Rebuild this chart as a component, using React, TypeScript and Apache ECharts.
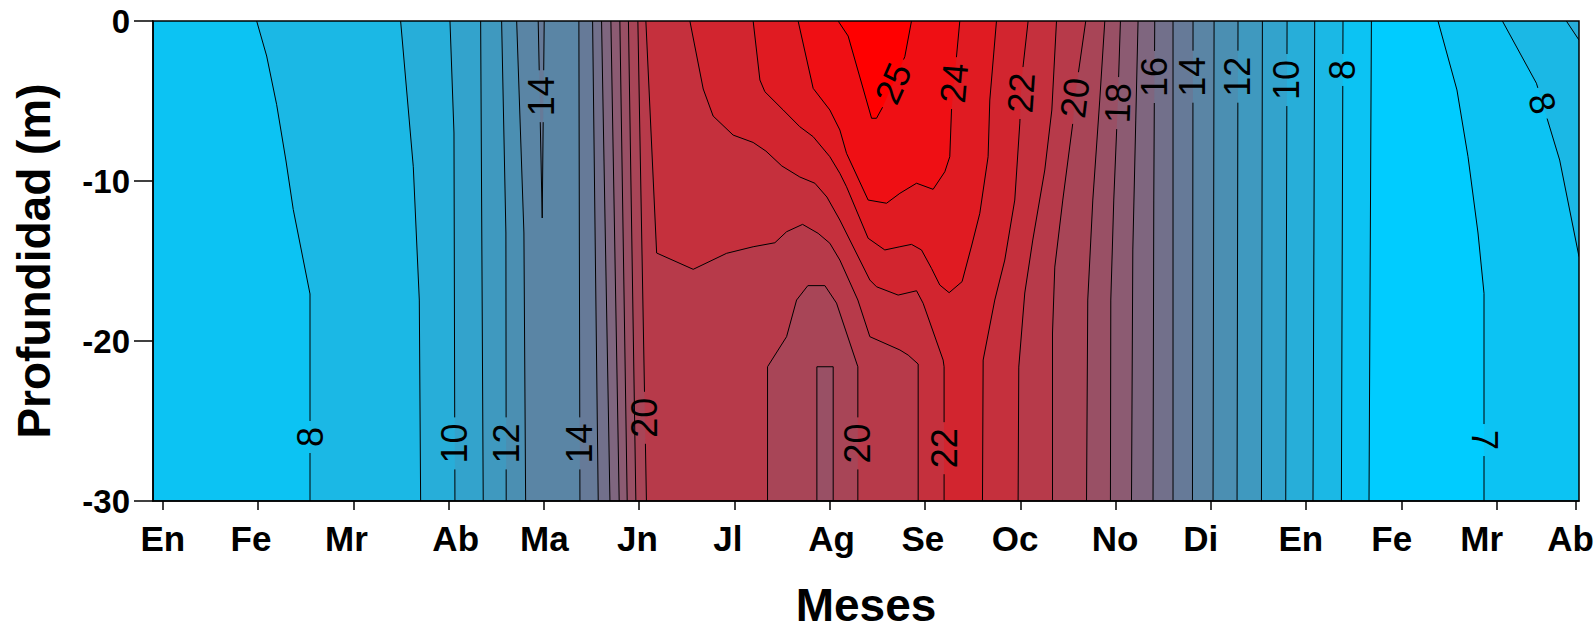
import React, { useEffect, useRef } from "react";
import * as echarts from "echarts";

type Pt = [number, number];

// ---------- axes ----------
const X_MIN = -0.103; // months counted from the first "En"
const X_MAX = 14.864;
const DEPTH_MIN = -30;
const DEPTH_MAX = 0;

const MONTH_TICKS = [0, 1, 2, 3, 4, 5, 6, 7, 8, 9, 10, 11, 12, 13, 14, 14.83];
const MONTH_LABEL_POS = [0, 0.926, 1.928, 3.074, 4.005, 4.981, 5.931, 7.02, 7.977, 8.945, 9.995, 10.894, 11.944, 12.898, 13.843, 14.776];
const MONTH_LABELS = ["En", "Fe", "Mr", "Ab", "Ma", "Jn", "Jl", "Ag", "Se", "Oc", "No", "Di", "En", "Fe", "Mr", "Ab"];

// ---------- colour of each 1 °C band (lower bound 6 … 25) ----------
const BAND_LOWER = [6, 7, 8, 9, 10, 11, 12, 13, 14, 15, 16, 17, 18, 19, 20, 21, 22, 23, 24, 25];
const BAND_COLORS = [
  "#00ccff", "#0cc3f3", "#1bb8e5", "#27aed9", "#33a3cc", "#3f99bf", "#4b8fb2", "#5a85a5", "#667a98", "#72708b",
  "#7f667f", "#8c5b72", "#995065", "#a84557", "#b73a4a", "#c5303d", "#d2252f", "#e01b22", "#ef0f14", "#ff0000",
];

// ---------- isotherms: [month, depth] ----------
// spring (warming) side
const RISE_8: Pt[] = [[0.985, 0], [1.09, -2.19], [1.195, -5.23], [1.293, -8.75], [1.369, -11.78], [1.545, -17.06], [1.545, -30]];
const RISE_9: Pt[] = [[2.496, 0], [2.629, -9.11], [2.692, -17.44], [2.706, -30]];
const RISE_10: Pt[] = [[3.014, 0], [3.056, -7], [3.066, -30]];
const RISE_11: Pt[] = [[3.336, 0], [3.363, -30]];
const RISE_12: Pt[] = [[3.556, 0], [3.601, -13.25], [3.604, -30]];
const RISE_13: Pt[] = [[3.714, 0], [3.79, -13.25], [3.808, -30]];
const RISE_14: Pt[] = [[4.367, 0], [4.378, -30]];
const RISE_15: Pt[] = [[4.511, 0], [4.57, -30]];
const RISE_16: Pt[] = [[4.605, 0], [4.693, -30]];
const RISE_17: Pt[] = [[4.703, 0], [4.79, -30]];
const RISE_18: Pt[] = [[4.797, 0], [4.874, -30]];
const RISE_19: Pt[] = [[4.887, 0], [4.965, -30]];
const RISE_20: Pt[] = [[4.986, 0], [5.076, -30]];
const RISE_21: Pt[] = [
  [5.07, 0], [5.183, -14.5], [5.567, -15.52], [5.917, -14.52], [6.196, -14.11], [6.424, -13.86], [6.547, -13.17],
  [6.715, -12.71], [6.878, -13.27], [7.001, -13.89], [7.106, -14.94], [7.295, -17.44], [7.421, -19.73], [7.736, -20.56],
  [7.823, -20.88], [7.928, -21.44], [7.928, -30],
];
const RISE_22: Pt[] = [
  [5.532, 0], [5.672, -4.25], [5.776, -5.94], [5.986, -7.13], [6.196, -7.59], [6.33, -8.13], [6.497, -9.06], [6.686, -9.75],
  [6.844, -10.14], [6.97, -11], [7.106, -12.44], [7.421, -16.19], [7.491, -16.61], [7.718, -17.13], [7.911, -16.86],
  [7.98, -17.64], [8.19, -21.19], [8.2, -21.61], [8.2, -30],
];
// autumn (cooling) side
const FALL_7: Pt[] = [[12.685, 0], [12.66, -30]];
const FALL_8: Pt[] = [[12.387, 0], [12.37, -30]];
const FALL_9: Pt[] = [[12.09, 0], [12.072, -30]];
const FALL_10: Pt[] = [[11.8, 0], [11.786, -30]];
const FALL_11: Pt[] = [[11.541, 0], [11.531, -30]];
const FALL_12: Pt[] = [[11.285, 0], [11.275, -30]];
const FALL_13: Pt[] = [[11.034, 0], [11.023, -30]];
const FALL_14: Pt[] = [[10.813, 0], [10.807, -30]];
const FALL_15: Pt[] = [[10.603, 0], [10.603, -30]];
const FALL_16: Pt[] = [[10.411, 0], [10.401, -11.19], [10.393, -30]];
const FALL_17: Pt[] = [[10.236, 0], [10.212, -6.19], [10.181, -14.31], [10.167, -30]];
const FALL_18: Pt[] = [[10.051, 0], [10.023, -5.13], [9.981, -11.19], [9.95, -17.44], [9.946, -30]];
const FALL_19: Pt[] = [[9.887, 0], [9.834, -4.94], [9.761, -11.19], [9.708, -17.44], [9.695, -30]];
const FALL_20: Pt[] = [[9.687, 0], [9.572, -4.81], [9.551, -6.38], [9.446, -11.19], [9.362, -15.38], [9.338, -19.5], [9.338, -30]];
const FALL_21: Pt[] = [[9.38, 0], [9.331, -5.56], [9.257, -9.31], [9.131, -13.69], [9.047, -17], [8.984, -21.63], [8.977, -30]];
const FALL_22: Pt[] = [[9.082, 0], [9.013, -3.69], [8.995, -6.38], [8.942, -11.19], [8.837, -14.94], [8.732, -17.44], [8.61, -21.19], [8.603, -30]];
// second winter / spring
const RISE_7B: Pt[] = [[13.384, 0], [13.583, -4.31], [13.699, -8.48], [13.804, -13.25], [13.867, -17.02], [13.867, -30]];
const RISE_8B: Pt[] = [[14.06, 0], [14.417, -3.89], [14.661, -8.69], [14.864, -14.73]];
const RISE_9B: Pt[] = [[14.731, 0], [14.864, -1.19]];
// closed / local features
const TONGUE_14: Pt[] = [[3.94, 0], [3.982, -12.31], [4.003, 0]];
const DOME_20: Pt[] = [[6.347, -30], [6.347, -21.61], [6.547, -19.73], [6.652, -17.44], [6.77, -16.54], [6.949, -16.54], [7.071, -17.63], [7.295, -21.61], [7.295, -30]];
const POCKET_19: Pt[] = [[6.865, -30], [6.865, -21.61], [7.036, -21.61], [7.036, -30]];
const CORE_23: Pt[] = [
  [6.196, 0], [6.267, -3.69], [6.319, -4.42], [6.511, -5.56], [6.686, -6.61], [6.826, -7.23], [7.001, -8.48], [7.106, -9.52],
  [7.176, -10.36], [7.403, -13.58], [7.578, -14.31], [7.736, -14.11], [7.858, -13.96], [7.963, -14.31], [8.068, -15.46],
  [8.155, -16.5], [8.253, -16.98], [8.389, -16.29], [8.491, -14], [8.575, -12.02], [8.662, -8.48], [8.68, -4.94], [8.75, 0],
];
const CORE_24: Pt[] = [
  [6.668, 0], [6.826, -4.21], [7.001, -5.56], [7.106, -6.81], [7.176, -8.27], [7.403, -11.19], [7.596, -11.39], [7.736, -10.77],
  [7.911, -10.14], [8.085, -10.52], [8.208, -9.42], [8.26, -8.48], [8.278, -5.56], [8.365, 0],
];
const CORE_25: Pt[] = [[7.088, 0], [7.193, -0.94], [7.439, -6.08], [7.491, -6.08], [7.557, -5.36], [7.788, -2.23], [7.858, 0]];

// ---------- contour labels ----------
const LABEL_TEXT = ["8", "10", "12", "14", "14", "20", "20", "22", "25", "24", "22", "20", "18", "16", "14", "12", "10", "8", "8", "7"];
const LABEL_X = [1.545, 3.066, 3.604, 4.377, 3.975, 5.06, 7.295, 8.2, 7.665, 8.304, 9.008, 9.572, 10.023, 10.405, 10.811, 11.283, 11.798, 12.386, 14.48, 13.867];
const LABEL_Y = [-26.0, -26.4, -26.4, -26.4, -4.7, -24.8, -26.4, -26.7, -3.9, -3.88, -4.5, -4.81, -5.13, -3.5, -3.48, -3.48, -3.69, -3.06, -5.14, -26.19];
const LABEL_ANGLE = [90, 90, 90, 90, 90, 90, 90, 90, 66, 85, 86, 83, 88, 90, 90, 90, 90, 90, -73, -90];
const LABEL_LINE = ["r8", "r10", "r12", "r14", "t14", "r20", "d20", "r22", "c25", "c24", "f22", "f20", "f18", "f16", "f14", "f12", "f10", "f8", "b8", "b7"];

// ---------- derived tables ----------
const RISE: Record<number, Pt[]> = {
  8: RISE_8, 9: RISE_9, 10: RISE_10, 11: RISE_11, 12: RISE_12, 13: RISE_13, 14: RISE_14, 15: RISE_15,
  16: RISE_16, 17: RISE_17, 18: RISE_18, 19: RISE_19, 20: RISE_20, 21: RISE_21, 22: RISE_22,
};
const FALL: Record<number, Pt[]> = {
  7: FALL_7, 8: FALL_8, 9: FALL_9, 10: FALL_10, 11: FALL_11, 12: FALL_12, 13: FALL_13, 14: FALL_14, 15: FALL_15,
  16: FALL_16, 17: FALL_17, 18: FALL_18, 19: FALL_19, 20: FALL_20, 21: FALL_21, 22: FALL_22,
};
const rev = (a: Pt[]): Pt[] => [...a].reverse();
const bandColor = (lower: number) => BAND_COLORS[BAND_LOWER.indexOf(lower)];

type Fill = { band: number; pts: Pt[] };
const FILLS: Fill[] = [];
FILLS.push({ band: 7, pts: [[X_MIN, DEPTH_MAX], [X_MAX, DEPTH_MAX], [X_MAX, DEPTH_MIN], [X_MIN, DEPTH_MIN]] });
FILLS.push({ band: 6, pts: [...FALL_7, ...rev(RISE_7B)] });
for (let L = 8; L <= 20; L++) {
  FILLS.push({ band: L, pts: [...RISE[L], ...rev(FALL[L])] });
  if (L === 8) FILLS.push({ band: 8, pts: [...RISE_8B, [X_MAX, DEPTH_MAX]] });
  if (L === 9) FILLS.push({ band: 9, pts: [...RISE_9B, [X_MAX, DEPTH_MAX]] });
  if (L === 14) FILLS.push({ band: 14, pts: TONGUE_14 });
}
FILLS.push({ band: 19, pts: DOME_20 });
FILLS.push({ band: 18, pts: POCKET_19 });
FILLS.push({ band: 21, pts: [...RISE_21, ...rev(FALL_21)] });
FILLS.push({ band: 22, pts: [...RISE_22, ...rev(FALL_22)] });
FILLS.push({ band: 23, pts: CORE_23 });
FILLS.push({ band: 24, pts: CORE_24 });
FILLS.push({ band: 25, pts: CORE_25 });

type Iso = { id: string; pts: Pt[] };
const ISOLINES: Iso[] = [];
Object.keys(RISE).forEach((k) => ISOLINES.push({ id: "r" + k, pts: RISE[+k] }));
Object.keys(FALL).forEach((k) => ISOLINES.push({ id: "f" + k, pts: FALL[+k] }));
ISOLINES.push({ id: "b7", pts: RISE_7B }, { id: "b8", pts: RISE_8B }, { id: "b9", pts: RISE_9B });
ISOLINES.push({ id: "t14", pts: TONGUE_14 }, { id: "d20", pts: DOME_20 }, { id: "p19", pts: POCKET_19 });
ISOLINES.push({ id: "c23", pts: CORE_23 }, { id: "c24", pts: CORE_24 }, { id: "c25", pts: CORE_25 });

const FONT = '"Liberation Sans", Arial, Helvetica, sans-serif';
const NARROW = '"Liberation Sans Narrow", "Arial Narrow", "Liberation Sans", Arial, sans-serif';
const LABEL_SIZE = 36;

// cut the part of a pixel polyline that falls inside a circle (gap for a label)
function cutPoly(poly: number[][], cx: number, cy: number, r: number): number[][][] {
  const out: number[][][] = [];
  let cur: number[][] = [];
  for (let i = 0; i < poly.length - 1; i++) {
    const a = poly[i], b = poly[i + 1];
    const dx = b[0] - a[0], dy = b[1] - a[1];
    const fx = a[0] - cx, fy = a[1] - cy;
    const A = dx * dx + dy * dy, B = 2 * (fx * dx + fy * dy), C = fx * fx + fy * fy - r * r;
    const disc = B * B - 4 * A * C;
    let s = 2, e = -1;
    if (A > 0 && disc > 0) {
      const sq = Math.sqrt(disc);
      s = (-B - sq) / (2 * A);
      e = (-B + sq) / (2 * A);
    }
    const s0 = Math.max(0, s), e0 = Math.min(1, e);
    if (s0 >= e0) {
      if (!cur.length) cur.push(a);
      cur.push(b);
    } else {
      if (s0 > 0) {
        if (!cur.length) cur.push(a);
        cur.push([a[0] + dx * s0, a[1] + dy * s0]);
      }
      if (cur.length >= 2) out.push(cur);
      cur = [];
      if (e0 < 1) cur = [[a[0] + dx * e0, a[1] + dy * e0], b];
    }
  }
  if (cur.length >= 2) out.push(cur);
  return out;
}

function monthLabel(v: number): string {
  const i = MONTH_LABEL_POS.findIndex((t) => Math.abs(t - v) < 1e-6);
  return i >= 0 ? MONTH_LABELS[i] : "";
}

function buildOption(): any {
  const black = { color: "#000", width: 1.5 };
  return {
    animation: false,
    grid: {
      left: 153, right: 17, top: 21, bottom: 132, show: true, containLabel: false, outerBoundsMode: "none",
      borderColor: "#000", borderWidth: 1.5, backgroundColor: "transparent", z: 5,
    },
    xAxis: {
      type: "value", min: X_MIN, max: X_MAX, z: 6,
      name: "Meses", nameLocation: "middle", nameGap: 81,
      nameTextStyle: { fontSize: 46, lineHeight: 46, fontWeight: "bold", color: "#000", fontFamily: FONT },
      axisLine: { show: true, onZero: false, lineStyle: black },
      axisTick: { show: true, customValues: MONTH_TICKS, length: 9, lineStyle: black },
      axisLabel: {
        customValues: MONTH_LABEL_POS, formatter: (v: number) => monthLabel(v),
        fontSize: 35, fontWeight: "bold", fontFamily: NARROW, color: "#000", margin: 20,
      },
      splitLine: { show: false },
    },
    yAxis: {
      type: "value", min: DEPTH_MIN, max: DEPTH_MAX, interval: 10, z: 6,
      name: "Profundidad (m)", nameLocation: "middle", nameRotate: 90, nameGap: 96,
      nameTextStyle: { fontSize: 46, fontWeight: "bold", color: "#000", fontFamily: FONT },
      axisLine: { show: true, onZero: false, lineStyle: black },
      axisTick: { show: true, length: 19, lineStyle: black },
      axisLabel: { fontSize: 33, fontWeight: "bold", fontFamily: FONT, color: "#000", margin: 23 },
      splitLine: { show: false },
    },
    series: [
      {
        type: "custom", name: "bands", coordinateSystem: "cartesian2d", clip: true, z: 1, silent: true,
        data: FILLS.map((f, i) => [f.pts[0][0], f.pts[0][1], i]),
        encode: { x: 0, y: 1 },
        renderItem: (params: any, api: any) => {
          const f = FILLS[params.dataIndex];
          return {
            type: "polygon",
            shape: { points: f.pts.map((p) => api.coord(p)) },
            style: { fill: bandColor(f.band), stroke: "none" },
          };
        },
      },
      {
        type: "custom", name: "isotherms", coordinateSystem: "cartesian2d", clip: true, z: 2, silent: true,
        data: ISOLINES.map((l, i) => [l.pts[0][0], l.pts[0][1], i]),
        encode: { x: 0, y: 1 },
        renderItem: (params: any, api: any) => {
          const line = ISOLINES[params.dataIndex];
          let pieces: number[][][] = [line.pts.map((p) => api.coord(p))];
          LABEL_LINE.forEach((id, k) => {
            if (id !== line.id) return;
            const c = api.coord([LABEL_X[k], LABEL_Y[k]]);
            const r = LABEL_TEXT[k].length * 0.556 * LABEL_SIZE * 0.5 + 6;
            pieces = pieces.flatMap((p) => cutPoly(p, c[0], c[1], r));
          });
          return {
            type: "group",
            children: pieces.map((p) => ({
              type: "polyline",
              shape: { points: p },
              style: { stroke: "#000", lineWidth: 1, fill: "none" },
            })),
          };
        },
      },
      {
        type: "custom", name: "labels", coordinateSystem: "cartesian2d", clip: false, z: 3, silent: true,
        data: LABEL_TEXT.map((_, k) => [LABEL_X[k], LABEL_Y[k], k]),
        encode: { x: 0, y: 1 },
        renderItem: (params: any, api: any) => {
          const k = params.dataIndex;
          const c = api.coord([LABEL_X[k], LABEL_Y[k]]);
          return {
            type: "text",
            x: c[0], y: c[1],
            rotation: (LABEL_ANGLE[k] * Math.PI) / 180,
            style: {
              text: LABEL_TEXT[k], fill: "#000", fontSize: LABEL_SIZE, fontFamily: FONT,
              align: "center", verticalAlign: "middle",
            },
          };
        },
      },
    ],
  };
}

export default function App() {
  const ref = useRef<HTMLDivElement>(null);
  useEffect(() => {
    document.body.style.margin = "0";
    document.body.style.overflow = "hidden";
    if (!ref.current) return;
    const chart = echarts.init(ref.current, undefined, { renderer: "svg" });
    chart.setOption(buildOption());
    return () => chart.dispose();
  }, []);
  return <div ref={ref} style={{ width: 1596, height: 633, background: "#fff" }} />;
}
